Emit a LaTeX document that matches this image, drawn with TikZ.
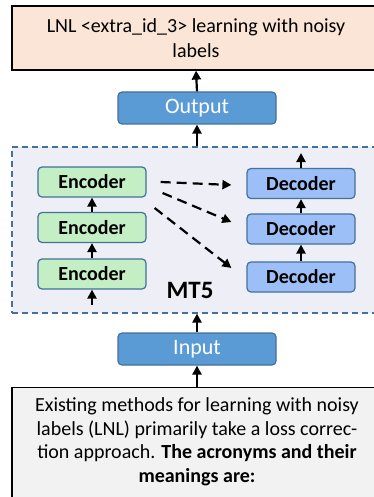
\documentclass[tikz,border=0pt]{standalone}
\usepackage{fontspec}
\setmainfont{Carlito}
\usepackage{tikz}
\usetikzlibrary{shapes,arrows,arrows.meta}
\usetikzlibrary{calc}

\definecolor{peach}{HTML}{FBE5D6}
\definecolor{ioblue}{HTML}{5B9BD5}
\definecolor{edgeblue}{HTML}{41719C}
\definecolor{lavender}{HTML}{EEEEF6}
\definecolor{encgreen}{HTML}{C4EFC4}
\definecolor{decblue}{HTML}{9DBFF7}
\definecolor{srcgrey}{HTML}{F2F2F2}

\begin{document}
\begin{tikzpicture}[x=1pt, y=-1pt,
	iobox/.style={draw=edgeblue, fill=ioblue, line width=1.2pt, rounded corners=4pt, minimum width=158pt, minimum height=32pt, text=white, font=\fontsize{22}{24}\selectfont},
	encbox/.style={draw=edgeblue, fill=encgreen, line width=1.2pt, rounded corners=4pt, minimum width=108pt, minimum height=30pt, font=\fontsize{20}{22}\selectfont\bfseries},
	decbox/.style={encbox, fill=decblue},
	uparrow/.style={line width=2.2pt, -{Triangle[length=9pt,width=9pt]}},
	dasharrow/.style={uparrow, dash pattern=on 10pt off 6pt}]
	\useasboundingbox (0,0) rectangle (373,497);
	
	% top and bottom text boxes
	\node[draw=black, fill=peach, line width=1.2pt, minimum width=368pt, minimum height=64pt, align=center, font=\fontsize{20}{25}\selectfont] (target) at (196,38) {LNL <extra\_id\_3> learning with noisy\\labels};
	\node[draw=black, fill=srcgrey, line width=1.2pt, minimum width=370pt, minimum height=140pt, anchor=north] (srcbox) at (197,387) {};
	\node[anchor=north, align=center, font=\fontsize{20}{23.7}\selectfont] (src) at (197,394) {Existing methods for learning with noisy\\labels (LNL) primarily take a loss correc-\\tion approach. \textbf{The acronyms and their}\\\textbf{meanings are:}};
	
	% model
	\node[draw=edgeblue, fill=lavender, line width=1.2pt, dash pattern=on 6pt off 4pt, minimum width=370pt, minimum height=166pt] (mt5box) at (197,230) {};
	\node[font=\fontsize{25}{27}\selectfont\bfseries] (mt5) at (190,290) {MT5};
	
	\node[iobox] (output) at (197,108) {Output};
	\node[iobox] (input) at (197,349) {Input};
	
	\node[encbox] (enc1) at (92,182) {Encoder};
	\node[encbox] (enc2) at (92,227.5) {Encoder};
	\node[encbox] (enc3) at (92,274) {Encoder};
	\node[decbox] (dec1) at (301,183.5) {Decoder};
	\node[decbox] (dec2) at (301,229) {Decoder};
	\node[decbox] (dec3) at (301,277) {Decoder};
	
	\coordinate (encin) at (92,305);
	\coordinate (decout) at (301,153);
	
	\draw[uparrow] (srcbox.north) -- (input.south);
	\draw[uparrow] (input.north) -- (mt5box.south);
	\draw[uparrow] (mt5box.north) -- (output.south);
	\draw[uparrow] (output.north) -- (target.south);
	
	\draw[uparrow] (encin) -- (enc3.south);
	\draw[uparrow] (enc3.north) -- (enc2.south);
	\draw[uparrow] (enc2.north) -- (enc1.south);
	\draw[uparrow] (dec3.north) -- (dec2.south);
	\draw[uparrow] (dec2.north) -- (dec1.south);
	\draw[uparrow] (dec1.north) -- (decout);
	
	\draw[dasharrow] ([xshift=14pt]enc1.east) -- ([xshift=-15pt,yshift=-1.5pt]dec1.west);
	\draw[dasharrow] ([xshift=16pt,yshift=-11pt]enc1.east) -- ([xshift=-15pt,yshift=7pt]dec2.west);
	\draw[dasharrow] ([xshift=8pt,yshift=-26pt]enc1.east) -- ([xshift=-15pt,yshift=9pt]dec3.west);
\end{tikzpicture}
\end{document}
